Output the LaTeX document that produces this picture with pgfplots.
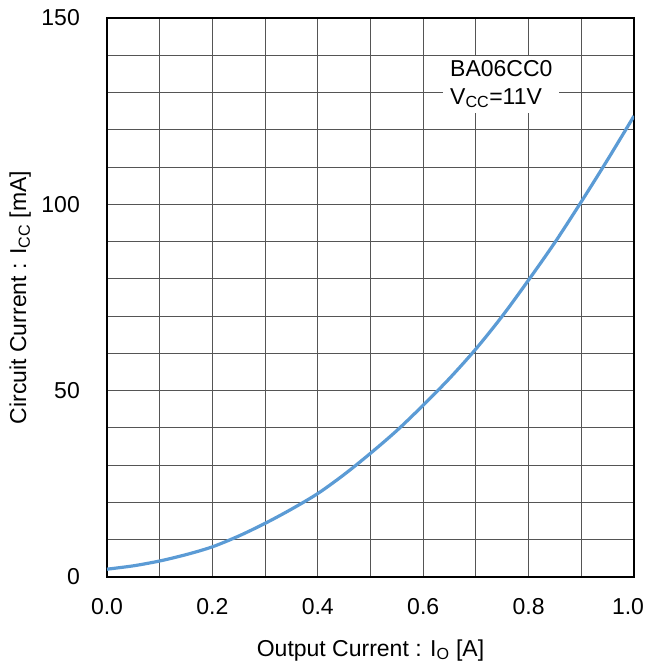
\documentclass[border=0pt]{standalone}
\usepackage{pgfplots}
\pgfplotsset{compat=1.18}
\usepackage{fontspec}
\setmainfont{Liberation Sans}
\definecolor{curveblue}{RGB}{91,155,213}
\definecolor{gridgray}{RGB}{85,85,85}
\newcommand{\fs}{\fontsize{23}{27.5}\selectfont}
\begin{document}
\begin{tikzpicture}
\path[use as bounding box] (-107pt,-91pt) rectangle (541pt,577pt);
\begin{axis}[
  at={(0pt,0pt)}, anchor=south west,
  scale only axis,
  width=527pt, height=559pt,
  xmin=0, xmax=1, ymin=0, ymax=150,
  xtick={0,0.2,0.4,0.6,0.8,1.0},
  xticklabels={0.0,0.2,0.4,0.6,0.8,\makebox[0pt]{1.0\hspace{12pt}}},
  minor xtick={0.1,0.3,0.5,0.7,0.9},
  ytick={0,50,100,150},
  minor ytick={10,20,30,40,60,70,80,90,110,120,130,140},
  grid=both,
  major grid style={gridgray, line width=0.9pt},
  minor grid style={gridgray, line width=0.9pt},
  tick style={draw=none},
  axis line style={black, line width=1.6pt},
  /pgf/number format/assume math mode=true,
  xticklabel style={font=\fs, anchor=base, inner sep=0pt, yshift=-37pt},
  yticklabel style={font=\fs, anchor=east, inner sep=0pt, xshift=-27pt},
  xlabel={Output Current : I\textsubscript{O} [A]},
  ylabel={Circuit Current : I\textsubscript{CC} [mA]},
  every axis x label/.style={at={([yshift=-79pt]rel axis cs:0.5,0)}, anchor=base, inner sep=0pt, font=\fs},
  every axis y label/.style={at={([xshift=-76pt]rel axis cs:0,0.5)}, anchor=south, rotate=90, inner sep=0pt, font=\fs},
  clip=true,
]
\addplot[curveblue, line width=3.2pt, smooth] coordinates {
(0.0,2.1) (0.05,3.0) (0.1,4.3) (0.15,6.0) (0.2,8.1) (0.25,11.0) (0.3,14.4) (0.35,18.2) (0.4,22.4) (0.45,27.5) (0.5,33.2) (0.55,39.3) (0.6,46.1) (0.65,53.3) (0.7,61.2) (0.75,70.0) (0.8,79.7) (0.85,89.8) (0.9,100.7) (0.95,112.0) (1.0,123.7)
};
\node[fill=white, align=left, anchor=west, inner xsep=7pt, inner ysep=5pt, font=\fs] at (axis cs:0.6376,132.2) {BA06CC0\\V\textsubscript{CC}=11V};
\end{axis}
\end{tikzpicture}
\end{document}
